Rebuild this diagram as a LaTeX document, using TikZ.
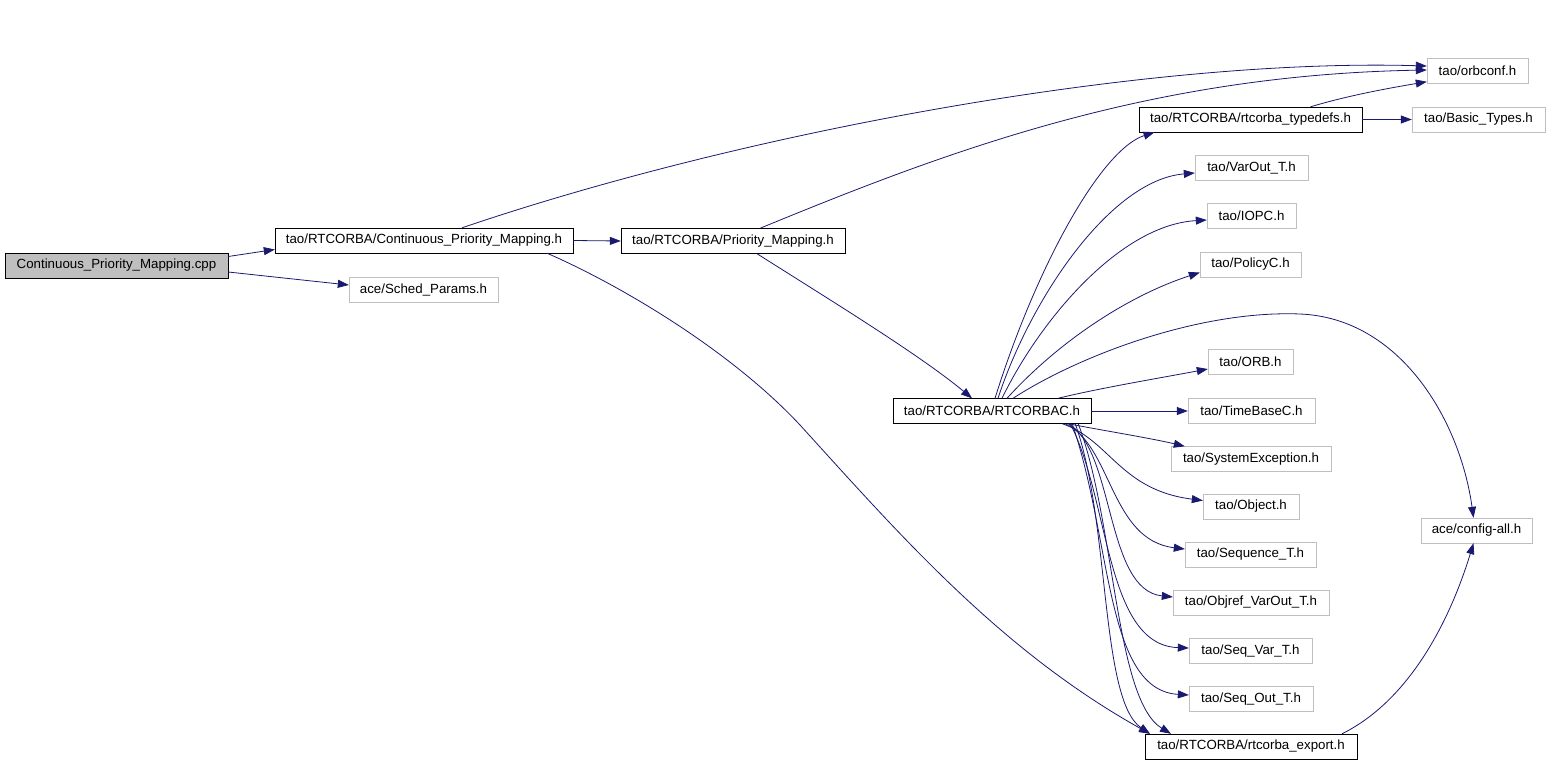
\documentclass[tikz,border=0pt]{standalone}
\usepackage{fontspec}
\setmainfont{Liberation Sans}
\usepackage{tikz}
\usetikzlibrary{arrows.meta}
\definecolor{edgeblue}{HTML}{191970}
\definecolor{leafgray}{HTML}{BFBFBF}
\tikzset{header file/.style={draw=black, rectangle, inner sep=0pt, minimum height=25pt, font=\fontsize{13.3}{15}\selectfont}}
\tikzset{leaf file/.style={header file, draw=leafgray}}
\tikzset{source file/.style={header file, fill=leafgray}}
\tikzset{include/.style={draw=edgeblue, line width=0.8pt, -{Triangle[length=11pt,width=8pt]}}}

\begin{document}
\begin{tikzpicture}[x=1pt, y=-1pt]
\useasboundingbox (0,0) rectangle (1549,763);
\node[source file, minimum width=223pt] (cpp) at (116.5,265.5) {Continuous\_Priority\_Mapping.cpp};
\node[header file, minimum width=298pt] (cpm) at (424,240.5) {tao/RTCORBA/Continuous\_Priority\_Mapping.h};
\node[leaf file, minimum width=149pt] (sched) at (423.5,290) {ace/Sched\_Params.h};
\node[header file, minimum width=224pt] (pm) at (733,241) {tao/RTCORBA/Priority\_Mapping.h};
\node[header file, minimum width=198pt] (rtc) at (992,411) {tao/RTCORBA/RTCORBAC.h};
\node[header file, minimum width=223pt] (typedefs) at (1250.5,119.5) {tao/RTCORBA/rtcorba\_typedefs.h};
\node[leaf file, minimum width=113pt] (varout) at (1251.5,168) {tao/VarOut\_T.h};
\node[leaf file, minimum width=89pt] (iopc) at (1251.5,216) {tao/IOPC.h};
\node[leaf file, minimum width=101pt] (policyc) at (1250.5,264.5) {tao/PolicyC.h};
\node[leaf file, minimum width=85pt] (orb) at (1250.5,362) {tao/ORB.h};
\node[leaf file, minimum width=127pt] (timebase) at (1251.5,411) {tao/TimeBaseC.h};
\node[leaf file, minimum width=160pt] (sysexc) at (1251,459) {tao/SystemException.h};
\node[leaf file, minimum width=96pt] (object) at (1251,506.5) {tao/Object.h};
\node[leaf file, minimum width=131pt] (seqT) at (1250.5,554.5) {tao/Sequence\_T.h};
\node[leaf file, minimum width=156pt] (objref) at (1251,602.5) {tao/Objref\_VarOut\_T.h};
\node[leaf file, minimum width=123pt] (seqvar) at (1250.5,651) {tao/Seq\_Var\_T.h};
\node[leaf file, minimum width=124pt] (seqout) at (1251,699) {tao/Seq\_Out\_T.h};
\node[header file, minimum width=212pt] (export) at (1251,746.5) {tao/RTCORBA/rtcorba\_export.h};
\node[leaf file, minimum width=101pt] (orbconf) at (1477.5,71) {tao/orbconf.h};
\node[leaf file, minimum width=133pt] (basic) at (1478.5,119.5) {tao/Basic\_Types.h};
\node[leaf file, minimum width=111pt] (config) at (1476.5,530.5) {ace/config-all.h};
% includes of the source file
\draw[include] ([yshift=9pt]cpp.east) -- ([yshift=-9pt]cpm.west);
\draw[include] ([yshift=-6.5pt]cpp.east) -- ([yshift=5pt]sched.west);
% Continuous_Priority_Mapping.h
\draw[include] (cpm.east) -- (pm.west);
\draw[include] ([xshift=38pt]cpm.north) .. controls (750,130) and (1150,58) .. ([yshift=5pt]orbconf.west);
\draw[include] ([xshift=123pt]cpm.south) .. controls (620,285) and (730,350) .. (800,425)
  .. controls (900,535) and (1000,650) .. ([xshift=-101pt]export.north);
% Priority_Mapping.h
\draw[include] ([xshift=27pt]pm.north) .. controls (950,150) and (1150,75) .. ([yshift=1pt]orbconf.west);
\draw[include] ([xshift=24pt]pm.south) .. controls (830,300) and (920,355) .. ([xshift=-20pt]rtc.north);
% rtcorba_typedefs.h
\draw[include] ([xshift=60pt]typedefs.north) .. controls (1350,95) and (1390,88) .. ([yshift=2pt]orbconf.south west);
\draw[include] (typedefs.east) -- (basic.west);
% RTCORBAC.h, upper fan
\draw[include] ([xshift=3pt]rtc.north) .. controls (1035,270) and (1100,150) .. ([xshift=-96pt]typedefs.south);
\draw[include] ([xshift=6pt]rtc.north) .. controls (1030,300) and (1110,180) .. ([yshift=-5pt]varout.west);
\draw[include] ([xshift=10pt]rtc.north) .. controls (1040,320) and (1120,225) .. ([yshift=-4pt]iopc.west);
\draw[include] ([xshift=15pt]rtc.north) .. controls (1060,340) and (1130,295) .. ([yshift=-8pt]policyc.west);
\draw[include] ([xshift=21pt]rtc.north) .. controls (1080,355) and (1200,310) .. (1300,314)
  .. controls (1400,318) and (1460,420) .. ([xshift=-3pt]config.north);
\draw[include] ([xshift=66pt]rtc.north) .. controls (1100,388) and (1160,378) .. ([yshift=-7pt]orb.west);
\draw[include] (rtc.east) -- (timebase.west);
% RTCORBAC.h, lower fan
\draw[include] ([xshift=-23pt]rtc.south east) .. controls (1100,430) and (1150,438) .. ([xshift=14pt]sysexc.north west);
\draw[include] ([xshift=-29pt]rtc.south east) .. controls (1110,440) and (1120,490) .. ([yshift=6pt]object.west);
\draw[include] ([xshift=-26pt]rtc.south east) .. controls (1112,445) and (1110,540) .. ([yshift=5.5pt]seqT.west);
\draw[include] ([xshift=-23pt]rtc.south east) .. controls (1115,450) and (1105,590) .. ([yshift=5.5pt]objref.west);
\draw[include] ([xshift=-21pt]rtc.south east) .. controls (1110,500) and (1105,645) .. ([yshift=3pt]seqvar.west);
\draw[include] ([xshift=-19pt]rtc.south east) .. controls (1112,540) and (1105,690) .. ([yshift=4pt]seqout.west);
\draw[include] ([xshift=-16pt]rtc.south east) .. controls (1110,520) and (1100,700) .. ([xshift=-101pt]export.north);
\draw[include] ([xshift=-13pt]rtc.south east) .. controls (1115,520) and (1115,700) .. ([xshift=-80pt]export.north);
% rtcorba_export.h
\draw[include] ([xshift=91pt]export.north) .. controls (1410,700) and (1450,620) .. ([xshift=-3pt]config.south);
\end{tikzpicture}
\end{document}
